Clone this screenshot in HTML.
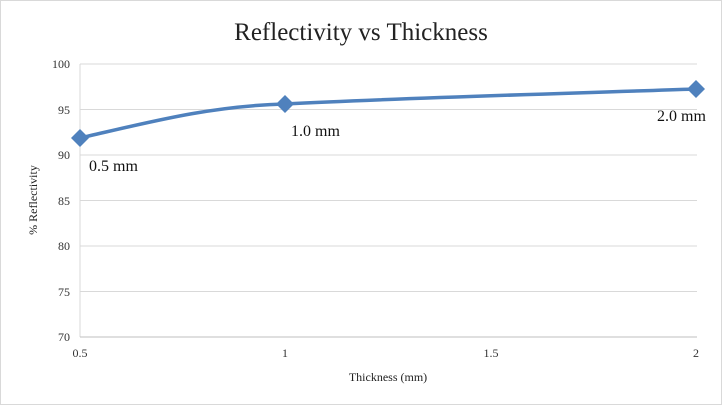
<html><body style="margin:0;background:#fff">
<svg width="723" height="406" xmlns="http://www.w3.org/2000/svg" font-family="Liberation Serif, serif">
<rect x="0.5" y="0.5" width="721" height="404" fill="#fff" stroke="#d9d9d9"/>
<text x="361" y="40" font-size="25" text-anchor="middle" fill="#222">Reflectivity vs Thickness</text>
<g stroke="#d9d9d9" stroke-width="1">
<line x1="80" x2="697" y1="64" y2="64"/><line x1="80" x2="697" y1="109.5" y2="109.5"/>
<line x1="80" x2="697" y1="155" y2="155"/><line x1="80" x2="697" y1="200.5" y2="200.5"/>
<line x1="80" x2="697" y1="246" y2="246"/><line x1="80" x2="697" y1="291.5" y2="291.5"/>
<line x1="80" x2="80" y1="64" y2="337"/>
</g>
<line x1="80" x2="697" y1="337" y2="337" stroke="#bfbfbf"/>
<g font-size="12" fill="#333" text-anchor="end">
<text x="70" y="68">100</text><text x="70" y="114">95</text><text x="70" y="159">90</text>
<text x="70" y="205">85</text><text x="70" y="250">80</text><text x="70" y="296">75</text><text x="70" y="341">70</text>
</g>
<g font-size="12" fill="#333" text-anchor="middle">
<text x="80" y="357">0.5</text><text x="285" y="357">1</text><text x="491" y="357">1.5</text><text x="696" y="357">2</text>
</g>
<text x="388" y="381" font-size="12" text-anchor="middle" fill="#222">Thickness (mm)</text>
<text transform="translate(37,200) rotate(-90)" font-size="12" text-anchor="middle" fill="#222">% Reflectivity</text>
<path d="M80,138 C150,122 210,106 285,104 C400,98 550,94 696,89" fill="none" stroke="#4f81bd" stroke-width="3.5"/>
<g fill="#4f81bd">
<path d="M80,129 L89,138 L80,147 L71,138Z"/><path d="M285,95 L294,104 L285,113 L276,104Z"/><path d="M696,80 L705,89 L696,98 L687,89Z"/>
</g>
<g font-size="16" fill="#111">
<text x="89" y="171">0.5 mm</text><text x="291" y="136">1.0 mm</text><text x="657" y="121">2.0 mm</text>
</g>
</svg>
</body></html>
